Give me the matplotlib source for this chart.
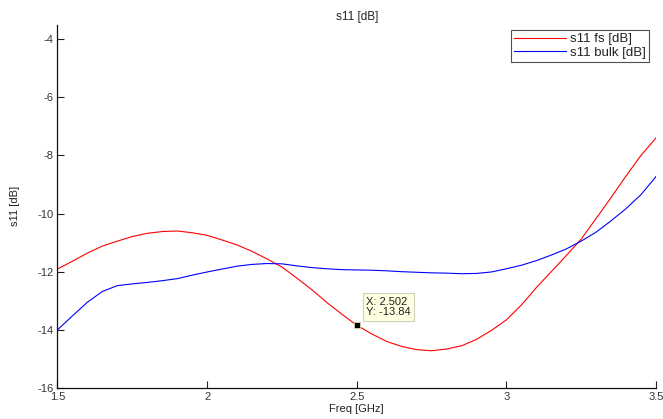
import matplotlib
matplotlib.use("Agg")
import matplotlib.pyplot as plt

freq = [1.50, 1.55, 1.60, 1.65, 1.70, 1.75, 1.80, 1.85, 1.90, 1.95,
        2.00, 2.05, 2.10, 2.15, 2.20, 2.25, 2.30, 2.35, 2.40, 2.45,
        2.50, 2.55, 2.60, 2.65, 2.70, 2.75, 2.80, 2.85, 2.90, 2.95,
        3.00, 3.05, 3.10, 3.15, 3.20, 3.25, 3.30, 3.35, 3.40, 3.45, 3.50]

s11_fs = [-11.91, -11.64, -11.36, -11.12, -10.95, -10.79, -10.68, -10.62, -10.60, -10.66,
          -10.75, -10.91, -11.08, -11.30, -11.56, -11.84, -12.22, -12.62, -13.06, -13.46,
          -13.84, -14.14, -14.40, -14.57, -14.68, -14.72, -14.66, -14.55, -14.33, -14.02,
          -13.66, -13.15, -12.55, -12.00, -11.45, -10.88, -10.17, -9.45, -8.71, -8.00, -7.40]

s11_bulk = [-14.00, -13.52, -13.05, -12.68, -12.48, -12.42, -12.37, -12.31, -12.24, -12.12,
            -12.01, -11.91, -11.81, -11.75, -11.72, -11.73, -11.80, -11.86, -11.90, -11.93,
            -11.94, -11.95, -11.97, -12.00, -12.02, -12.04, -12.05, -12.07, -12.06, -12.01,
            -11.90, -11.78, -11.62, -11.43, -11.22, -10.95, -10.64, -10.25, -9.83, -9.35, -8.73]

tip_x = 2.502
tip_y = -13.84

xticks = [1.5, 2, 2.5, 3, 3.5]
xtick_labels = ["1.5", "2", "2.5", "3", "3.5"]
yticks = [-16, -14, -12, -10, -8, -6, -4]
ytick_labels = ["-16", "-14", "-12", "-10", "-8", "-6", "-4"]

plt.rcParams['font.family'] = ['Liberation Sans', 'DejaVu Sans']

fig = plt.figure(figsize=(6.63, 4.19), dpi=100)
ax = fig.add_axes([0.0867, 0.074, 0.9027, 0.8675])

ax.plot(freq, s11_fs, color='#ff0000', lw=0.8, label='s11 fs [dB]')
ax.plot(freq, s11_bulk, color='#0000ff', lw=0.8, label='s11 bulk [dB]')

ax.plot([tip_x], [tip_y], marker='s', markersize=5, color='black',
        markeredgecolor='#d8d8a0', markeredgewidth=0.6, zorder=5)
ax.annotate(f"X: {tip_x:.3f}\nY: {tip_y:.2f}", xy=(tip_x, tip_y),
            xytext=(9, 8), textcoords='offset pixels', ha='left', va='bottom',
            fontsize=8, color='#222222', linespacing=1.05,
            bbox=dict(boxstyle='square,pad=0.3', facecolor='#ffffe1',
                      edgecolor='#d0d0bc', lw=0.8), zorder=6)

ax.set_xlim(1.5, 3.5)
ax.set_ylim(-16, -3.5)
ax.set_xticks(xticks)
ax.set_xticklabels(xtick_labels)
ax.set_yticks(yticks)
ax.set_yticklabels(ytick_labels)
ax.tick_params(direction='in', length=5, width=0.8, labelsize=8,
               labelcolor='#333333', color='#222222', pad=3)
ax.spines['top'].set_visible(False)
ax.spines['right'].set_visible(False)
for s in ('left', 'bottom'):
    ax.spines[s].set_linewidth(0.9)
    ax.spines[s].set_color('#111111')

ax.set_title('s11 [dB]', fontsize=8.5, color='#222222', pad=3)
ax.set_xlabel('Freq [GHz]', fontsize=8, color='#222222', labelpad=1)
ax.set_ylabel('s11 [dB]', fontsize=8, color='#222222', labelpad=12)

leg = ax.legend(loc='upper right', bbox_to_anchor=(0.989, 0.985), fontsize=9.5,
                frameon=True, fancybox=False, handlelength=3.9,
                borderpad=0.25, labelspacing=0.1, handletextpad=0.35,
                borderaxespad=0.0)
leg.get_frame().set_edgecolor('#222222')
leg.get_frame().set_linewidth(0.8)
for t in leg.get_texts():
    t.set_color('#222222')

fig.savefig('out.png', dpi=100)
